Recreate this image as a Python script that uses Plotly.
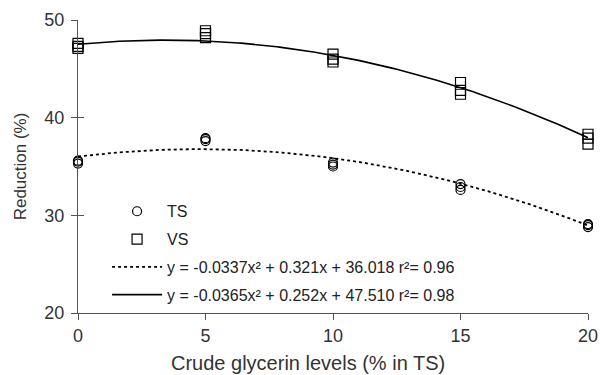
import numpy as np
import plotly.graph_objects as go

# Observed data
ts_x = [0, 0, 0, 5, 5, 5, 10, 10, 10, 15, 15, 15, 20, 20, 20]
ts_y = [35.3, 35.5, 35.6, 37.6, 37.8, 37.9, 35.0, 35.2, 35.4, 32.6, 32.9, 33.2, 28.8, 29.0, 29.1]
vs_x = [0, 0, 0, 5, 5, 5, 10, 10, 10, 15, 15, 15, 20, 20, 20]
vs_y = [47.1, 47.3, 47.6, 48.2, 48.6, 48.9, 45.7, 46.0, 46.5, 42.4, 42.8, 43.6, 37.3, 37.9, 38.3]

# Quadratic fit coefficients (a, b, c) and r²
ts_fit = [-0.0337, 0.321, 36.018]
vs_fit = [-0.0365, 0.252, 47.510]
ts_r2 = 0.96
vs_r2 = 0.98

xticks = [0, 5, 10, 15, 20]
yticks = [20, 30, 40, 50]
x_title = "Crude glycerin levels (% in TS)"
y_title = "Reduction (%)"

xf = np.linspace(0, 20, 201)
def quad(c, x):
    return c[0] * x**2 + c[1] * x + c[2]

FONT = "Arial, Liberation Sans, sans-serif"
AX = "#555555"

fig = go.Figure()
fig.add_trace(go.Scatter(x=ts_x, y=ts_y, mode="markers", name="TS",
                         marker=dict(symbol="circle-open", size=9, color="black", line=dict(width=1.2)),
                         cliponaxis=False, legendgroup="a"))
fig.add_trace(go.Scatter(x=vs_x, y=vs_y, mode="markers", name="VS",
                         marker=dict(symbol="square-open", size=10, color="black", line=dict(width=1.2)),
                         cliponaxis=False, legendgroup="b"))
fig.add_trace(go.Scatter(x=xf, y=quad(ts_fit, xf), mode="lines",
                         name=f"y = {ts_fit[0]:.4f}x² + {ts_fit[1]:.3f}x + {ts_fit[2]:.3f} r²= {ts_r2:.2f}",
                         line=dict(color="black", width=1.8, dash="dot"), legendgroup="c"))
fig.add_trace(go.Scatter(x=xf, y=quad(vs_fit, xf), mode="lines",
                         name=f"y = {vs_fit[0]:.4f}x² + {vs_fit[1]:.3f}x + {vs_fit[2]:.3f} r²= {vs_r2:.2f}",
                         line=dict(color="black", width=1.6), legendgroup="d"))
# dummy trace for crossing ticks on y axis
fig.add_trace(go.Scatter(x=[None], y=[None], yaxis="y2", showlegend=False))

fig.update_layout(
    width=600, height=375,
    margin=dict(l=78, r=12, t=20, b=62),
    paper_bgcolor="white", plot_bgcolor="white",
    font=dict(family=FONT, color="#333333", size=16),
    xaxis=dict(range=[0, 20], tickvals=xticks, showgrid=False, zeroline=False, automargin=False,
               showline=True, linecolor=AX, linewidth=1.3, ticks="outside", ticklen=6,
               tickcolor=AX, tickfont=dict(size=18), ticklabeloverflow="allow"),
    yaxis=dict(range=[20, 50], tickvals=yticks, showgrid=False, zeroline=False, automargin=False,
               showline=True, linecolor=AX, linewidth=1.3, ticks="outside", ticklen=6,
               tickcolor=AX, tickfont=dict(size=18), ticklabelstandoff=3,
               title=dict(text=y_title, font=dict(size=17), standoff=13)),
    yaxis2=dict(range=[20, 50], tickvals=yticks, overlaying="y", side="left", automargin=False,
                showgrid=False, zeroline=False, showline=False, ticks="inside",
                ticklen=6, tickcolor=AX, showticklabels=False),
    legend=dict(x=0.057, y=0.405, xanchor="left", yanchor="top", bgcolor="rgba(0,0,0,0)",
                font=dict(size=16, color="#222222"), itemwidth=50, tracegroupgap=4,
                traceorder="grouped"),
    showlegend=True,
    annotations=[dict(text=x_title, xref="paper", yref="paper", x=0.45, y=-0.172,
                      xanchor="center", yanchor="middle", showarrow=False,
                      font=dict(size=20, color="#333333"))],
)

fig.write_html("out.html", config={"displayModeBar": False},
               post_script="document.body.style.margin='0';document.body.style.overflow='hidden';")
